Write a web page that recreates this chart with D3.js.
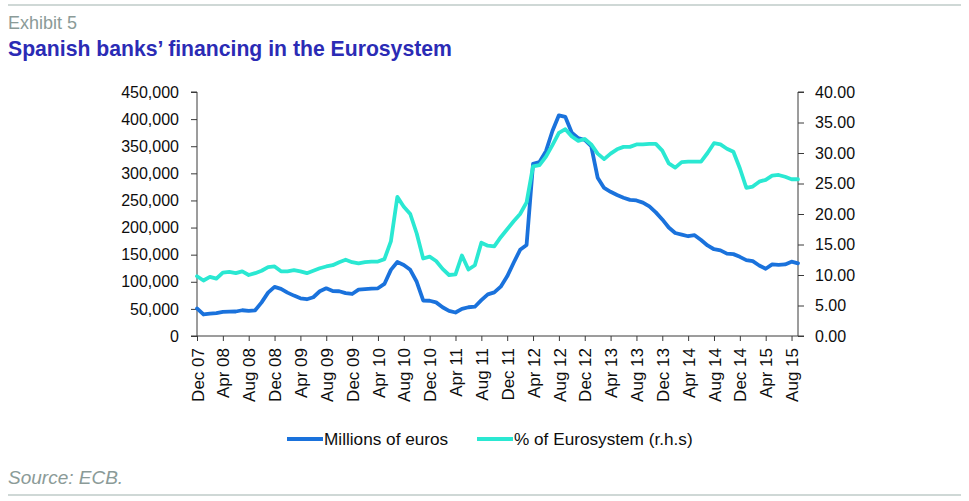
<!DOCTYPE html>
<html><head><meta charset="utf-8">
<script src="https://cdn.jsdelivr.net/npm/d3@7"></script>
<style>body{margin:0;background:#fff}svg{display:block}text{font-family:Arial,"Liberation Sans",sans-serif}</style>
</head><body><svg id="c" width="969" height="501"></svg>
<script>
// Monthly data, Dec 2007 .. Sep 2015
const tickLabels = ["Dec 07","Apr 08","Aug 08","Dec 08","Apr 09","Aug 09","Dec 09","Apr 10","Aug 10","Dec 10","Apr 11","Aug 11","Dec 11","Apr 12","Aug 12","Dec 12","Apr 13","Aug 13","Dec 13","Apr 14","Aug 14","Dec 14","Apr 15","Aug 15"];
const millionsEuros = [50800,39700,41400,42200,44500,44900,45200,47500,46300,47400,62000,80000,
 90500,87000,80000,74500,69600,67800,71500,82500,88000,83000,82500,79000,
 77500,85500,86500,87500,88000,96000,122000,136400,131000,122000,100000,65500,
 65000,62000,53000,46300,43300,50000,53000,54000,66000,76800,80500,91000,
 110000,135000,159000,168000,317400,321000,341000,378000,407000,404000,375000,365000,
 361500,350000,292000,273000,266000,260000,255000,251000,250000,246000,239000,228000,
 215000,200000,190000,187000,184000,186000,177000,167000,160000,158000,152000,151000,
 146000,140000,138000,130000,124000,132000,131000,132000,137000,134000];
const pctEurosystem = [9.8,9.1,9.7,9.4,10.4,10.5,10.3,10.6,10.0,10.3,10.7,11.3,
 11.4,10.6,10.6,10.8,10.6,10.3,10.7,11.1,11.4,11.6,12.1,12.5,
 12.1,11.9,12.1,12.2,12.2,12.6,15.5,22.8,21.2,20.0,16.8,12.7,
 13.0,12.3,11.0,10.0,10.1,13.2,10.9,11.6,15.3,14.8,14.7,16.2,
 17.5,18.8,20.0,21.9,27.8,28.0,29.4,31.3,33.3,33.9,32.7,32.0,
 32.3,31.4,29.9,29.0,29.9,30.6,31.0,31.0,31.4,31.4,31.5,31.5,
 30.4,28.3,27.6,28.5,28.6,28.6,28.6,30.0,31.6,31.4,30.7,30.2,
 27.5,24.3,24.5,25.3,25.6,26.3,26.4,26.1,25.7,25.7];
const leftTicks = [0,50000,100000,150000,200000,250000,300000,350000,400000,450000];
const rightTicks = [0,5,10,15,20,25,30,35,40];
const seriesNames = ["Millions of euros","% of Eurosystem (r.h.s)"];
const colors = ["#1a72dc","#2ae8d2"];

const svg = d3.select("#c");
const L = 197, R = 798, T = 92, B = 336;
const x = d3.scaleLinear().domain([0, millionsEuros.length - 1]).range([L, R]);
const yL = d3.scaleLinear().domain([0, 450000]).range([B, T]);
const yR = d3.scaleLinear().domain([0, 40]).range([B, T]);

// rules
svg.append("line").attr("x1",8).attr("x2",961).attr("y1",5).attr("y2",5).attr("stroke","#cfd8d6").attr("stroke-width",2);
svg.append("line").attr("x1",8).attr("x2",961).attr("y1",495).attr("y2",495).attr("stroke","#cfd8d6").attr("stroke-width",2);
svg.append("text").attr("x",8).attr("y",29).attr("font-size",18).attr("fill","#8b9b98").text("Exhibit 5");
svg.append("text").attr("x",8).attr("y",56).attr("font-size",21.2).attr("font-weight","bold").attr("fill","#2b2bb5").text("Spanish banks\u2019 financing in the Eurosystem");

const axisColor = "#3a3a3a";
const fmt = d3.format(",");
const gl = svg.append("g").attr("transform",`translate(${L},0)`)
  .call(d3.axisLeft(yL).tickValues(leftTicks).tickFormat(fmt).tickSize(6).tickPadding(12));
const gr = svg.append("g").attr("transform",`translate(${R},0)`)
  .call(d3.axisRight(yR).tickValues(rightTicks).tickFormat(d3.format(".2f")).tickSize(6).tickPadding(11));
const tickIdx = tickLabels.map((d,i)=>i*4);
const gx = svg.append("g").attr("transform",`translate(0,${B})`)
  .call(d3.axisBottom(x).tickValues(tickIdx).tickFormat((d,i)=>tickLabels[i]).tickSize(5).tickSizeOuter(0));
[gl,gr,gx].forEach(g=>{
  g.selectAll("path,line").attr("stroke",axisColor);
  g.select(".domain").attr("stroke",axisColor);
  g.selectAll("text").attr("fill","#0d0d0d").attr("font-size",16).attr("font-family","Arial,'Liberation Sans',sans-serif");
});
gl.select(".domain").attr("d",`M-6,${B}H0V${T}H-6`);
gr.select(".domain").attr("d",`M6,${B}H0V${T}H6`);
gx.select(".domain").attr("d",`M${L},0H${R}`);
gx.selectAll("text").attr("font-size",17).attr("transform","rotate(-90)").attr("text-anchor","end")
  .attr("x",-12).attr("y",0).attr("dy","0.36em");

// lines
const lineL = d3.line().x((d,i)=>x(i)).y(d=>yL(d));
const lineR = d3.line().x((d,i)=>x(i)).y(d=>yR(d));
svg.append("path").attr("d",lineL(millionsEuros)).attr("fill","none").attr("stroke",colors[0]).attr("stroke-width",3.8).attr("stroke-linejoin","round").attr("stroke-linecap","round");
svg.append("path").attr("d",lineR(pctEurosystem)).attr("fill","none").attr("stroke",colors[1]).attr("stroke-width",3.8).attr("stroke-linejoin","round").attr("stroke-linecap","round");

// legend
const leg = [{x1:287,x2:323,tx:324},{x1:477,x2:513,tx:514}];
leg.forEach((p,i)=>{
  svg.append("line").attr("x1",p.x1).attr("x2",p.x2).attr("y1",439).attr("y2",439).attr("stroke",colors[i]).attr("stroke-width",3.8);
  svg.append("text").attr("x",p.tx).attr("y",445).attr("font-size",17.2).attr("fill","#0d0d0d").text(seriesNames[i]);
});
svg.append("text").attr("x",8).attr("y",484).attr("font-size",19).attr("font-style","italic").attr("fill","#8b9b98").text("Source: ECB.");
</script></body></html>
